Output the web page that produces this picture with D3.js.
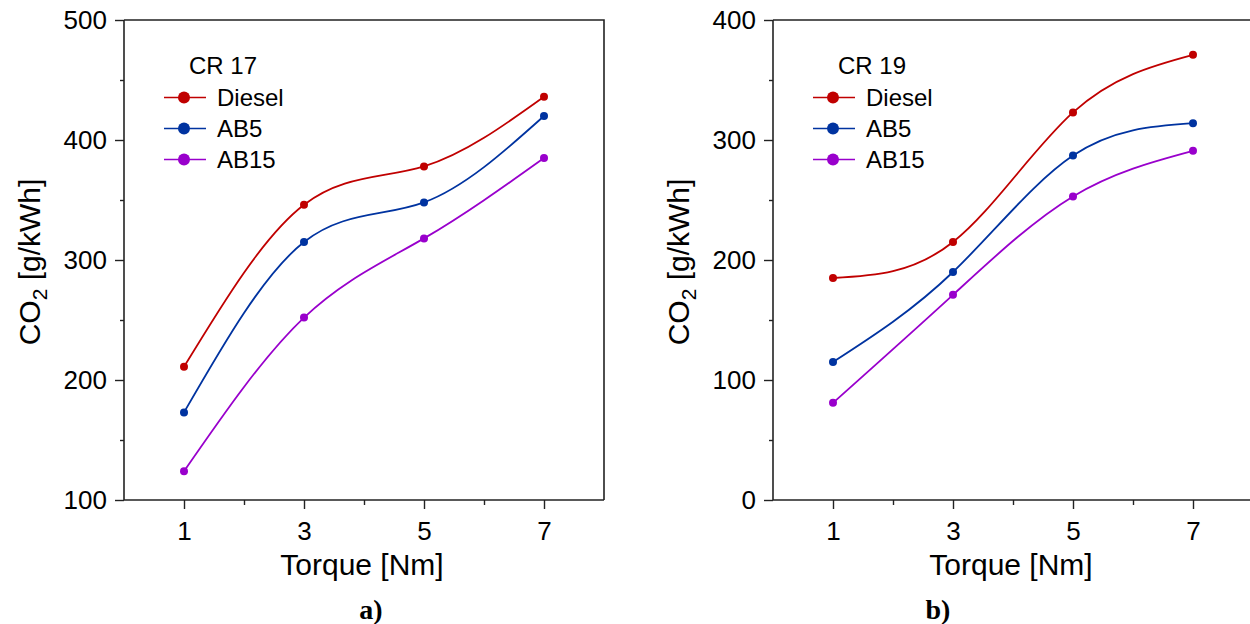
<!DOCTYPE html>
<html>
<head>
<meta charset="utf-8">
<script src="https://cdn.jsdelivr.net/npm/d3@7"></script>
<style>
  body { margin: 0; background: #fff; }
  text { font-family: Arial, "Liberation Sans", sans-serif; fill: #000; }
</style>
</head>
<body>
<div id="visualization"></div>
<script>
// data
const torque = [1, 3, 5, 7];
const seriesNames = ["Diesel", "AB5", "AB15"];
const seriesColors = ["#c00000", "#0033a0", "#9900cc"];

const cr17Diesel = [211, 346, 378, 436];
const cr17AB5 = [173, 315, 348, 420];
const cr17AB15 = [124, 252, 318, 385];

const cr19Diesel = [185, 215, 323, 371];
const cr19AB5 = [115, 190, 287, 314];
const cr19AB15 = [81, 171, 253, 291];

const xTicks = [1, 3, 5, 7];
const xMinor = [2, 4, 6];
const yTicksA = [100, 200, 300, 400, 500];
const yTicksB = [0, 100, 200, 300, 400];

const svg = d3.select("#visualization")
    .append("svg")
    .attr("width", 1250)
    .attr("height", 624);

function drawPanel(opts) {
    const g = svg.append("g").attr("transform", `translate(${opts.left},20)`);
    const width = 480, height = 480;

    const x = d3.scaleLinear().domain([0, 8]).range([0, width]);
    const y = d3.scaleLinear().domain(opts.yDomain).range([height, 0]);

    // frame (top + right)
    g.append("path")
        .attr("d", `M0,0H${width}V${height}`)
        .attr("fill", "none")
        .attr("stroke", "#222")
        .attr("stroke-width", 1.6);

    // x axis
    const xAxis = g.append("g").attr("transform", `translate(0,${height})`);
    xAxis.call(d3.axisBottom(x).tickValues(xTicks).tickSize(9).tickPadding(13).tickFormat(d3.format("d")));
    xAxis.append("g").call(d3.axisBottom(x).tickValues(xMinor).tickSize(5).tickFormat(""));
    xAxis.selectAll(".domain").remove();
    xAxis.append("line").attr("x1", 0).attr("x2", width).attr("stroke", "#222").attr("stroke-width", 1.6);

    // y axis
    const yAxis = g.append("g");
    yAxis.call(d3.axisLeft(y).tickValues(opts.yTicks).tickSize(9).tickPadding(8));
    const minor = opts.yTicks.slice(0, -1).map(v => v + 50);
    yAxis.append("g").call(d3.axisLeft(y).tickValues(minor).tickSize(4).tickFormat(""));
    yAxis.selectAll(".domain").remove();
    yAxis.append("line").attr("y1", 0).attr("y2", height).attr("stroke", "#222").attr("stroke-width", 1.6);

    g.selectAll(".tick line").attr("stroke", "#222").attr("stroke-width", 1.4);
    g.selectAll(".tick text").style("font-size", "26px").attr("fill", "#000");

    // axis labels
    g.append("text")
        .attr("text-anchor", "middle")
        .attr("x", 238)
        .attr("y", height + 75)
        .style("font-size", "30px")
        .text("Torque [Nm]");

    const yl = g.append("text")
        .attr("text-anchor", "middle")
        .attr("transform", `translate(${-84},${height / 2 + 2}) rotate(-90)`)
        .style("font-size", "30px");
    yl.append("tspan").text("CO");
    yl.append("tspan").attr("dy", 7).style("font-size", "21px").text("2");
    yl.append("tspan").attr("dy", -7).text(" [g/kWh]");

    // curves
    const line = d3.line()
        .x((d, i) => x(torque[i]))
        .y(d => y(d))
        .curve(d3.curveNatural);

    opts.series.forEach((vals, k) => {
        g.append("path")
            .attr("d", line(vals))
            .attr("fill", "none")
            .attr("stroke", seriesColors[k])
            .attr("stroke-width", 1.8);
        g.selectAll(null)
            .data(vals)
            .enter()
            .append("circle")
            .attr("cx", (d, i) => x(torque[i]))
            .attr("cy", d => y(d))
            .attr("r", 4)
            .attr("fill", seriesColors[k]);
    });

    // legend
    const lg = g.append("g").attr("transform", `translate(${opts.legendX},0)`);
    lg.append("text")
        .attr("x", 25)
        .attr("y", 54)
        .style("font-size", "24px")
        .text(opts.title);
    seriesNames.forEach((name, k) => {
        const cy = 77.5 + k * 31;
        lg.append("line")
            .attr("x1", 0).attr("x2", 42)
            .attr("y1", cy).attr("y2", cy)
            .attr("stroke", seriesColors[k])
            .attr("stroke-width", 1.6);
        lg.append("circle")
            .attr("cx", 20).attr("cy", cy).attr("r", 6)
            .attr("fill", seriesColors[k]);
        lg.append("text")
            .attr("x", 53)
            .attr("y", cy + 8)
            .style("font-size", "24px")
            .text(name);
    });

    // panel letter
    svg.append("text")
        .attr("x", opts.letterX)
        .attr("y", 619)
        .attr("text-anchor", "middle")
        .style("font-family", "'Liberation Serif', 'Times New Roman', serif")
        .style("font-weight", "bold")
        .style("font-size", "28px")
        .text(opts.letter);
}

drawPanel({
    left: 124,
    yDomain: [100, 500],
    yTicks: yTicksA,
    series: [cr17Diesel, cr17AB5, cr17AB15],
    title: "CR 17",
    legendX: 40,
    letter: "a)",
    letterX: 371
});

drawPanel({
    left: 773,
    yDomain: [0, 400],
    yTicks: yTicksB,
    series: [cr19Diesel, cr19AB5, cr19AB15],
    title: "CR 19",
    legendX: 40,
    letterX: 938,
    letter: "b)"
});
</script>
</body>
</html>
